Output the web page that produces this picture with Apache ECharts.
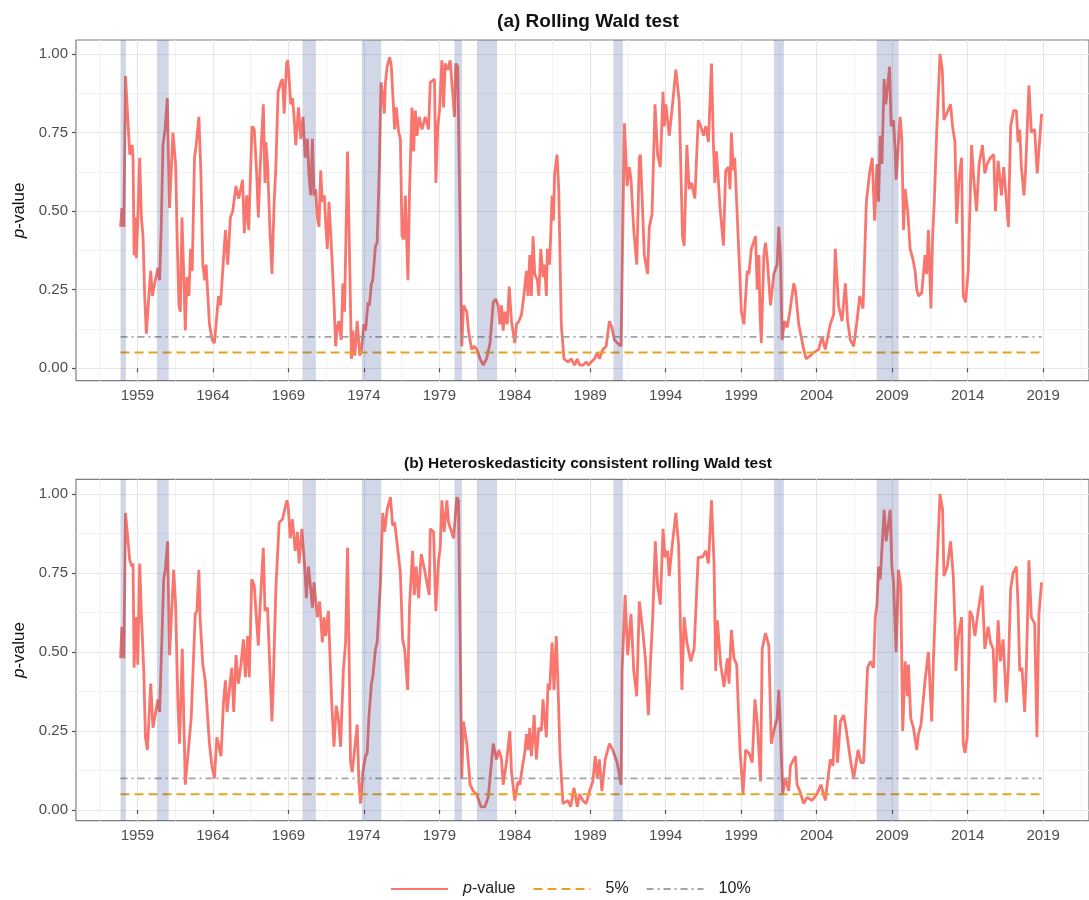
<!DOCTYPE html>
<html><head><meta charset="utf-8">
<script src="https://cdn.jsdelivr.net/npm/echarts@6/dist/echarts.min.js"></script>
<style>html,body{margin:0;padding:0;background:#fff}#c{width:1089px;height:900px}</style>
</head><body><div id="c"></div>
<script>
const FONT = '"Liberation Sans", Arial, Helvetica, sans-serif';

const panelTitles = ['(a) Rolling Wald test', '(b) Heteroskedasticity consistent rolling Wald test'];
const seriesNames = ['p-value', '5%', '10%'];
const majorYears = [1959, 1964, 1969, 1974, 1979, 1984, 1989, 1994, 1999, 2004, 2009, 2014, 2019];
const minorYears = [1956.5, 1961.5, 1966.5, 1971.5, 1976.5, 1981.5, 1986.5, 1991.5, 1996.5, 2001.5, 2006.5, 2011.5, 2016.5, 2021.5];
const yMajor = [0, 0.25, 0.5, 0.75, 1];
const yMinor = [0.125, 0.375, 0.625, 0.875];
const threshold5 = 0.05;
const threshold10 = 0.10;

// NBER recessions [start, end] in decimal years
const recessions = [
  [1957.88, 1958.24], [1960.29, 1961.07], [1969.93, 1970.82], [1973.87, 1975.15],
  [1980.0, 1980.5], [1981.5, 1982.83], [1990.54, 1991.16], [2001.16, 2001.83], [2007.97, 2009.42]
];

// Panel (a): rolling Wald test p-values [decimal year, p]
const rollingWald = [
[1957.88,0.45],[1957.97,0.51],[1958.10,0.45],[1958.21,0.93],[1958.49,0.68],[1958.65,0.71],[1958.71,0.67],[1958.78,0.36],[1958.87,0.48],[1958.93,0.35],
[1959.00,0.44],[1959.15,0.67],[1959.26,0.48],[1959.37,0.42],[1959.48,0.23],[1959.59,0.11],[1959.77,0.24],[1959.88,0.31],[1959.99,0.23],
[1960.14,0.27],[1960.36,0.32],[1960.47,0.28],[1960.58,0.46],[1960.69,0.71],[1960.83,0.76],[1960.98,0.86],
[1961.13,0.51],[1961.35,0.75],[1961.53,0.65],[1961.64,0.40],[1961.75,0.20],[1961.84,0.18],[1961.95,0.48],
[1962.06,0.31],[1962.17,0.12],[1962.28,0.29],[1962.41,0.23],[1962.52,0.38],[1962.63,0.31],[1962.78,0.67],[1962.89,0.71],
[1963.07,0.80],[1963.20,0.63],[1963.33,0.33],[1963.46,0.28],[1963.55,0.33],[1963.77,0.14],[1963.95,0.09],
[1964.10,0.08],[1964.21,0.14],[1964.37,0.23],[1964.50,0.20],[1964.65,0.31],[1964.83,0.44],[1964.98,0.33],
[1965.16,0.48],[1965.31,0.50],[1965.53,0.58],[1965.71,0.54],[1965.97,0.60],
[1966.08,0.43],[1966.24,0.55],[1966.37,0.44],[1966.46,0.57],[1966.59,0.77],[1966.74,0.76],[1966.90,0.62],
[1967.01,0.48],[1967.12,0.63],[1967.34,0.84],[1967.45,0.59],[1967.51,0.72],[1967.62,0.65],[1967.78,0.44],[1967.91,0.30],
[1968.06,0.53],[1968.17,0.64],[1968.32,0.88],[1968.50,0.91],[1968.61,0.92],[1968.72,0.81],[1968.88,0.97],[1968.96,0.98],
[1969.05,0.92],[1969.16,0.84],[1969.27,0.86],[1969.38,0.80],[1969.49,0.71],[1969.67,0.83],[1969.82,0.73],[1969.97,0.80],
[1970.11,0.67],[1970.26,0.73],[1970.37,0.61],[1970.48,0.55],[1970.59,0.73],[1970.70,0.55],[1970.81,0.57],[1970.92,0.48],
[1971.03,0.45],[1971.14,0.63],[1971.25,0.53],[1971.38,0.55],[1971.47,0.46],[1971.58,0.38],[1971.69,0.53],[1971.91,0.33],
[1972.04,0.19],[1972.13,0.07],[1972.24,0.13],[1972.35,0.15],[1972.50,0.09],[1972.61,0.27],[1972.72,0.18],[1972.92,0.69],
[1973.18,0.03],[1973.27,0.12],[1973.40,0.04],[1973.56,0.15],[1973.73,0.04],[1973.84,0.06],
[1974.00,0.14],[1974.11,0.12],[1974.28,0.21],[1974.37,0.20],[1974.50,0.27],[1974.59,0.28],[1974.77,0.39],[1974.88,0.40],
[1975.03,0.65],[1975.14,0.91],[1975.27,0.86],[1975.36,0.81],[1975.43,0.91],[1975.54,0.96],[1975.71,0.99],[1975.82,0.96],[1975.93,0.86],
[1976.04,0.76],[1976.15,0.83],[1976.31,0.75],[1976.42,0.73],[1976.53,0.42],[1976.64,0.41],[1976.75,0.55],[1976.92,0.28],
[1977.03,0.57],[1977.19,0.83],[1977.30,0.69],[1977.41,0.82],[1977.52,0.74],[1977.67,0.80],[1977.85,0.76],
[1978.07,0.80],[1978.29,0.76],[1978.40,0.91],[1978.68,0.92],[1978.77,0.59],[1978.90,0.77],
[1979.01,0.82],[1979.17,0.98],[1979.28,0.83],[1979.39,0.97],[1979.56,0.95],[1979.72,0.98],
[1980.00,0.80],[1980.09,0.97],[1980.22,0.96],[1980.49,0.07],[1980.60,0.20],[1980.82,0.18],[1980.93,0.12],
[1981.14,0.06],[1981.32,0.07],[1981.48,0.06],[1981.70,0.03],[1981.91,0.01],
[1982.13,0.03],[1982.36,0.08],[1982.57,0.21],[1982.73,0.22],[1982.90,0.20],
[1983.01,0.14],[1983.12,0.20],[1983.23,0.12],[1983.34,0.18],[1983.50,0.14],[1983.63,0.26],[1983.78,0.15],
[1984.00,0.08],[1984.11,0.14],[1984.27,0.15],[1984.44,0.17],[1984.60,0.23],[1984.77,0.31],[1984.88,0.23],[1984.99,0.36],
[1985.10,0.23],[1985.21,0.42],[1985.32,0.30],[1985.50,0.28],[1985.59,0.23],[1985.72,0.38],[1985.87,0.29],[1985.98,0.33],
[1986.09,0.23],[1986.16,0.38],[1986.31,0.33],[1986.47,0.55],[1986.56,0.47],[1986.64,0.62],[1986.80,0.68],[1986.91,0.57],
[1987.08,0.14],[1987.26,0.03],[1987.52,0.02],[1987.74,0.03],[1987.96,0.01],
[1988.14,0.03],[1988.29,0.01],[1988.51,0.01],[1988.73,0.02],[1988.89,0.01],
[1989.06,0.02],[1989.28,0.03],[1989.46,0.05],[1989.61,0.03],[1989.83,0.06],
[1990.05,0.07],[1990.27,0.15],[1990.43,0.13],[1990.60,0.09],[1990.82,0.08],
[1991.04,0.07],[1991.26,0.78],[1991.44,0.58],[1991.59,0.64],[1991.70,0.60],[1991.88,0.44],
[1992.08,0.33],[1992.25,0.67],[1992.32,0.68],[1992.43,0.55],[1992.58,0.36],[1992.80,0.30],[1992.91,0.45],
[1993.09,0.49],[1993.29,0.84],[1993.46,0.68],[1993.64,0.64],[1993.82,0.88],[1993.90,0.77],
[1994.01,0.84],[1994.23,0.74],[1994.39,0.81],[1994.67,0.95],[1994.89,0.85],
[1995.11,0.42],[1995.22,0.39],[1995.40,0.71],[1995.55,0.57],[1995.71,0.59],[1995.93,0.54],
[1996.15,0.79],[1996.32,0.77],[1996.50,0.74],[1996.65,0.77],[1996.83,0.72],
[1997.03,0.97],[1997.16,0.71],[1997.25,0.59],[1997.36,0.69],[1997.60,0.51],[1997.82,0.39],[1997.97,0.63],
[1998.15,0.64],[1998.26,0.57],[1998.35,0.75],[1998.48,0.63],[1998.57,0.67],[1998.85,0.36],
[1999.01,0.18],[1999.18,0.14],[1999.40,0.31],[1999.51,0.30],[1999.67,0.38],[1999.95,0.42],
[2000.06,0.25],[2000.17,0.36],[2000.24,0.18],[2000.33,0.08],[2000.50,0.36],[2000.61,0.40],[2000.72,0.35],[2000.94,0.20],
[2001.16,0.30],[2001.38,0.33],[2001.49,0.45],[2001.60,0.35],[2001.71,0.09],[2001.87,0.15],
[2002.04,0.13],[2002.22,0.18],[2002.48,0.27],[2002.59,0.25],[2002.81,0.14],
[2003.14,0.06],[2003.30,0.03],[2003.58,0.04],[2003.80,0.05],
[2004.13,0.06],[2004.35,0.10],[2004.57,0.06],[2004.90,0.14],
[2005.12,0.17],[2005.23,0.38],[2005.45,0.20],[2005.68,0.15],[2005.90,0.27],
[2006.05,0.15],[2006.23,0.09],[2006.45,0.07],[2006.67,0.15],[2006.85,0.23],
[2007.07,0.19],[2007.29,0.53],[2007.50,0.62],[2007.68,0.67],[2007.84,0.47],[2007.99,0.65],
[2008.10,0.53],[2008.21,0.74],[2008.32,0.65],[2008.47,0.92],[2008.58,0.84],[2008.83,0.96],[2008.93,0.77],
[2009.09,0.79],[2009.20,0.69],[2009.26,0.60],[2009.53,0.80],[2009.64,0.73],[2009.75,0.44],[2009.86,0.57],
[2010.03,0.50],[2010.19,0.38],[2010.36,0.35],[2010.52,0.31],[2010.63,0.25],[2010.74,0.23],[2010.96,0.24],
[2011.18,0.36],[2011.29,0.30],[2011.40,0.44],[2011.57,0.19],[2011.68,0.42],[2011.79,0.53],[2011.95,0.75],
[2012.17,1.00],[2012.32,0.95],[2012.43,0.79],[2012.61,0.81],[2012.87,0.84],
[2013.00,0.77],[2013.16,0.72],[2013.27,0.46],[2013.42,0.60],[2013.60,0.67],[2013.71,0.23],[2013.86,0.21],
[2014.04,0.31],[2014.26,0.71],[2014.41,0.60],[2014.59,0.50],[2014.76,0.65],[2014.98,0.71],
[2015.14,0.62],[2015.29,0.65],[2015.51,0.67],[2015.73,0.68],[2015.84,0.50],
[2016.02,0.66],[2016.24,0.55],[2016.39,0.64],[2016.57,0.53],[2016.70,0.45],[2016.85,0.77],
[2017.05,0.82],[2017.23,0.82],[2017.34,0.72],[2017.45,0.76],[2017.56,0.64],[2017.73,0.55],[2017.84,0.63],
[2018.06,0.90],[2018.22,0.75],[2018.44,0.76],[2018.61,0.62],[2018.90,0.81]
];

// Panel (b): heteroskedasticity consistent rolling Wald test p-values
const hcRollingWald = [
[1957.88,0.48],[1957.97,0.58],[1958.10,0.48],[1958.21,0.94],[1958.38,0.85],[1958.49,0.79],[1958.65,0.77],[1958.71,0.78],[1958.78,0.45],[1958.89,0.61],[1958.98,0.57],
[1959.02,0.46],[1959.15,0.78],[1959.26,0.62],[1959.42,0.44],[1959.53,0.23],[1959.66,0.19],[1959.88,0.40],
[1960.03,0.26],[1960.21,0.31],[1960.36,0.35],[1960.47,0.31],[1960.58,0.48],[1960.74,0.73],[1960.85,0.76],
[1961.00,0.85],[1961.13,0.49],[1961.40,0.76],[1961.53,0.65],[1961.68,0.34],[1961.79,0.21],[1961.97,0.51],
[1962.17,0.08],[1962.34,0.17],[1962.56,0.29],[1962.83,0.62],[1962.94,0.63],
[1963.07,0.76],[1963.16,0.60],[1963.33,0.46],[1963.49,0.41],[1963.77,0.21],[1963.93,0.14],
[1964.10,0.10],[1964.26,0.23],[1964.54,0.17],[1964.70,0.34],[1964.83,0.41],[1964.94,0.31],
[1965.09,0.38],[1965.25,0.45],[1965.38,0.31],[1965.53,0.49],[1965.69,0.40],[1965.86,0.46],
[1966.02,0.54],[1966.15,0.42],[1966.30,0.55],[1966.41,0.42],[1966.57,0.73],[1966.74,0.71],[1966.85,0.63],
[1967.01,0.52],[1967.12,0.64],[1967.34,0.83],[1967.45,0.63],[1967.62,0.64],[1967.91,0.28],
[1968.00,0.40],[1968.17,0.70],[1968.39,0.91],[1968.61,0.92],[1968.90,0.98],[1968.99,0.96],
[1969.12,0.86],[1969.27,0.92],[1969.45,0.82],[1969.60,0.88],[1969.71,0.78],[1969.89,0.89],
[1970.08,0.77],[1970.19,0.67],[1970.33,0.77],[1970.48,0.70],[1970.59,0.64],[1970.70,0.72],[1970.92,0.61],
[1971.07,0.66],[1971.25,0.53],[1971.36,0.61],[1971.47,0.55],[1971.65,0.63],[1971.87,0.34],
[1972.02,0.20],[1972.17,0.33],[1972.31,0.29],[1972.46,0.20],[1972.64,0.44],[1972.79,0.53],[1972.92,0.83],
[1973.12,0.15],[1973.23,0.12],[1973.56,0.27],[1973.67,0.09],[1973.78,0.02],[1973.93,0.12],
[1974.11,0.17],[1974.22,0.18],[1974.33,0.29],[1974.50,0.40],[1974.59,0.42],[1974.77,0.51],[1974.88,0.53],
[1975.10,0.72],[1975.25,0.94],[1975.38,0.88],[1975.54,0.95],[1975.76,0.99],[1975.91,0.90],
[1976.04,0.91],[1976.26,0.82],[1976.42,0.75],[1976.57,0.54],[1976.70,0.51],[1976.90,0.38],
[1977.03,0.65],[1977.23,0.82],[1977.34,0.68],[1977.47,0.77],[1977.63,0.67],[1977.80,0.81],
[1978.02,0.76],[1978.33,0.68],[1978.40,0.89],[1978.62,0.88],[1978.77,0.63],[1978.95,0.79],
[1979.06,0.83],[1979.17,0.98],[1979.32,0.88],[1979.50,0.98],[1979.61,0.91],[1979.94,0.86],
[1980.16,0.99],[1980.27,0.98],[1980.49,0.10],[1980.60,0.28],[1980.82,0.21],
[1981.04,0.08],[1981.25,0.06],[1981.47,0.05],[1981.76,0.01],
[1982.02,0.01],[1982.24,0.04],[1982.57,0.21],[1982.79,0.16],[1982.95,0.19],
[1983.12,0.16],[1983.23,0.08],[1983.45,0.15],[1983.67,0.25],[1983.78,0.12],
[1984.00,0.03],[1984.22,0.09],[1984.33,0.08],[1984.55,0.15],[1984.66,0.18],[1984.77,0.24],[1984.88,0.19],[1984.99,0.26],
[1985.10,0.17],[1985.21,0.24],[1985.28,0.30],[1985.43,0.16],[1985.59,0.26],[1985.76,0.25],[1985.87,0.35],
[1986.09,0.23],[1986.20,0.40],[1986.31,0.38],[1986.47,0.53],[1986.60,0.38],[1986.75,0.55],[1986.86,0.40],[1986.99,0.18],
[1987.19,0.02],[1987.52,0.03],[1987.70,0.01],[1987.92,0.07],
[1988.14,0.01],[1988.29,0.05],[1988.51,0.03],[1988.73,0.02],[1988.95,0.06],
[1989.17,0.09],[1989.33,0.17],[1989.46,0.10],[1989.60,0.16],[1989.77,0.06],[1989.99,0.16],
[1990.27,0.21],[1990.49,0.19],[1990.78,0.15],
[1991.04,0.08],[1991.11,0.44],[1991.31,0.68],[1991.48,0.49],[1991.70,0.62],[1991.88,0.44],
[1992.08,0.36],[1992.25,0.66],[1992.47,0.57],[1992.65,0.48],[1992.85,0.30],[1992.98,0.46],
[1993.13,0.60],[1993.31,0.85],[1993.46,0.71],[1993.64,0.65],[1993.82,0.89],[1993.95,0.80],
[1994.12,0.82],[1994.23,0.74],[1994.39,0.82],[1994.67,0.94],[1994.85,0.84],
[1995.07,0.38],[1995.22,0.61],[1995.40,0.53],[1995.66,0.47],[1995.88,0.51],
[1996.15,0.80],[1996.43,0.80],[1996.65,0.82],[1996.83,0.78],
[1997.03,0.98],[1997.20,0.78],[1997.31,0.44],[1997.42,0.60],[1997.64,0.46],[1997.86,0.39],
[1998.08,0.48],[1998.19,0.40],[1998.35,0.57],[1998.52,0.48],[1998.70,0.46],[1998.92,0.19],
[1999.12,0.05],[1999.29,0.19],[1999.51,0.18],[1999.73,0.15],[1999.91,0.35],
[2000.06,0.28],[2000.28,0.09],[2000.39,0.51],[2000.61,0.56],[2000.83,0.52],[2000.99,0.21],
[2001.16,0.25],[2001.38,0.29],[2001.49,0.38],[2001.60,0.25],[2001.75,0.05],[2001.93,0.10],
[2002.15,0.06],[2002.26,0.14],[2002.59,0.17],[2002.70,0.08],[2002.88,0.06],
[2003.14,0.02],[2003.36,0.04],[2003.69,0.03],
[2004.02,0.05],[2004.28,0.08],[2004.57,0.03],[2004.90,0.16],
[2005.08,0.14],[2005.23,0.30],[2005.38,0.15],[2005.57,0.28],[2005.79,0.30],[2005.97,0.25],
[2006.23,0.16],[2006.45,0.10],[2006.74,0.19],[2006.93,0.15],
[2007.11,0.15],[2007.37,0.45],[2007.55,0.47],[2007.77,0.45],[2007.88,0.61],[2007.99,0.65],
[2008.10,0.77],[2008.21,0.73],[2008.47,0.95],[2008.60,0.85],[2008.87,0.95],[2008.98,0.77],
[2009.09,0.72],[2009.26,0.50],[2009.42,0.76],[2009.57,0.71],[2009.70,0.25],[2009.86,0.47],
[2010.01,0.36],[2010.08,0.46],[2010.23,0.29],[2010.41,0.26],[2010.63,0.19],[2010.74,0.24],[2010.91,0.27],
[2011.18,0.41],[2011.40,0.50],[2011.62,0.28],[2011.73,0.47],[2011.95,0.75],
[2012.17,1.00],[2012.34,0.95],[2012.43,0.74],[2012.65,0.77],[2012.87,0.85],
[2013.05,0.74],[2013.16,0.59],[2013.22,0.44],[2013.38,0.55],[2013.60,0.61],[2013.71,0.21],[2013.82,0.18],[2013.97,0.23],
[2014.15,0.63],[2014.32,0.61],[2014.48,0.55],[2014.70,0.63],[2014.96,0.71],
[2015.14,0.51],[2015.36,0.58],[2015.51,0.53],[2015.69,0.51],[2015.82,0.34],
[2016.02,0.60],[2016.17,0.47],[2016.35,0.54],[2016.57,0.34],[2016.70,0.45],[2016.85,0.70],
[2017.01,0.75],[2017.23,0.77],[2017.34,0.65],[2017.45,0.44],[2017.60,0.45],[2017.78,0.31],[2017.89,0.45],
[2018.06,0.79],[2018.22,0.61],[2018.44,0.59],[2018.59,0.23],[2018.72,0.62],[2018.90,0.72]
];

const panels = [rollingWald, hcRollingWald];

// ---- layout / style ----
const X_MIN = 1954.93, X_MAX = 2022.04;
const layout = [
  {top: 40, height: 340.7, yMin: -0.0395, yMax: 1.0446, titleTop: 7, titleSize: 19},
  {top: 479.3, height: 341.4, yMin: -0.034, yMax: 1.0465, titleTop: 451, titleSize: 15.5}
];
const RED = '#F8766D', ORANGE = '#E6A323', GREY = '#A3A3A3';
const BAND = 'rgba(45,75,140,0.22)';

const chart = echarts.init(document.getElementById('c'), null, {renderer: 'canvas'});
const option = {
  animation: false,
  backgroundColor: '#fff',
  textStyle: {fontFamily: FONT},
  title: [], grid: [], xAxis: [], yAxis: [], series: [],
  legend: {
    data: seriesNames,
    left: 390, top: 881, padding: 0,
    itemWidth: 57, itemHeight: 14, itemGap: 17,
    itemStyle: {opacity: 0},
    textStyle: {fontFamily: FONT, fontSize: 16, color: '#222', padding: [0, 0, 0, 10],
      rich: {i: {fontFamily: FONT, fontSize: 16, fontStyle: 'italic', color: '#222'}, n: {fontFamily: FONT, fontSize: 16, color: '#222'}}},
    formatter: n => n === 'p-value' ? '{i|p}{n|-value}' : n
  }
};

layout.forEach((L, i) => {
  option.title.push({
    text: panelTitles[i], left: 583, top: L.titleTop, textAlign: 'center',
    textStyle: {fontFamily: FONT, fontSize: L.titleSize, fontWeight: 'bold', color: '#111'}
  });
  option.grid.push({left: 76, right: -4, top: L.top, height: L.height, show: true,
    borderColor: '#7d7d7d', borderWidth: 1.2, backgroundColor: 'transparent'});
  option.xAxis.push({
    type: 'value', gridIndex: i, min: X_MIN, max: X_MAX,
    axisLine: {show: false},
    axisTick: {show: true, customValues: majorYears, length: 4, lineStyle: {color: '#555', width: 1.2}},
    axisLabel: {customValues: majorYears, fontFamily: FONT, fontSize: 15, color: '#4D4D4D', margin: 8,
      formatter: v => String(Math.round(v))},
    splitLine: {show: true, lineStyle: {color: '#E6E6EA', width: 1.1}}
  });
  option.xAxis.push({
    type: 'value', gridIndex: i, min: X_MIN, max: X_MAX, position: 'bottom',
    axisLine: {show: false}, axisTick: {show: false, customValues: minorYears},
    axisLabel: {show: false}, splitLine: {show: true, lineStyle: {color: '#F0F0F3', width: 0.8}}
  });
  option.yAxis.push({
    type: 'value', gridIndex: i, min: L.yMin, max: L.yMax,
    axisLine: {show: false},
    axisTick: {show: true, customValues: yMajor, length: 4, lineStyle: {color: '#555', width: 1.2}},
    axisLabel: {customValues: yMajor, fontFamily: FONT, fontSize: 15, color: '#4D4D4D', margin: 8,
      formatter: v => v.toFixed(2)},
    splitLine: {show: true, lineStyle: {color: '#E6E6EA', width: 1.1}},
    name: '{i|p}{n|-value}', nameLocation: 'middle', nameGap: 46, nameRotate: 90,
    nameTextStyle: {fontFamily: FONT, fontSize: 17, color: '#111',
      rich: {i: {fontFamily: FONT, fontSize: 17, fontStyle: 'italic', color: '#111'}, n: {fontFamily: FONT, fontSize: 17, color: '#111'}}}
  });
  option.yAxis.push({
    type: 'value', gridIndex: i, min: L.yMin, max: L.yMax, position: 'left',
    axisLine: {show: false}, axisTick: {show: false, customValues: yMinor},
    axisLabel: {show: false}, splitLine: {show: true, lineStyle: {color: '#F0F0F3', width: 0.8}}
  });

  const data = panels[i];
  const x0 = data[0][0], x1 = data[data.length - 1][0];
  const xa = 2 * i, ya = 2 * i;
  option.series.push({
    name: 'p-value', type: 'line', xAxisIndex: xa, yAxisIndex: ya, data: data,
    symbol: 'none', showSymbol: false, z: 2,
    lineStyle: {color: RED, width: 2.8}, itemStyle: {color: RED}
  });
  option.series.push({
    name: '5%', type: 'line', xAxisIndex: xa, yAxisIndex: ya,
    data: [[x0, threshold5], [x1, threshold5]], symbol: 'none', z: 2,
    lineStyle: {color: ORANGE, width: 2, type: [9, 5]}, itemStyle: {color: ORANGE}
  });
  option.series.push({
    name: '10%', type: 'line', xAxisIndex: xa, yAxisIndex: ya,
    data: [[x0, threshold10], [x1, threshold10]], symbol: 'none', z: 2,
    lineStyle: {color: GREY, width: 1.6, type: [7, 4, 2, 4]}, itemStyle: {color: GREY}
  });
  option.series.push({
    name: 'recession', type: 'custom', xAxisIndex: xa, yAxisIndex: ya, z: 4, silent: true,
    data: recessions, encode: {x: [0, 1]},
    renderItem: (params, api) => {
      const p0 = api.coord([api.value(0), L.yMax]);
      const p1 = api.coord([api.value(1), L.yMin]);
      return {type: 'rect', shape: {x: p0[0], y: p0[1], width: p1[0] - p0[0], height: p1[1] - p0[1]},
        style: {fill: BAND}};
    }
  });
});

chart.setOption(option);
</script></body></html>
